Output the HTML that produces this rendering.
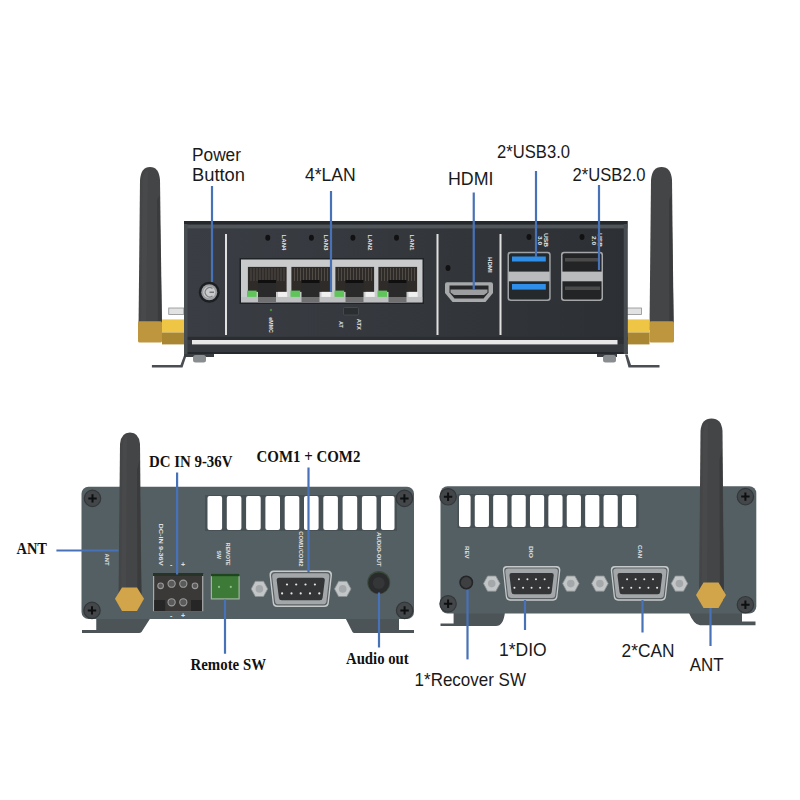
<!DOCTYPE html>
<html><head><meta charset="utf-8">
<style>
html,body{margin:0;padding:0;background:#fff;width:800px;height:800px;overflow:hidden}
svg{display:block}
.s{font-family:"Liberation Sans",sans-serif;fill:#1a1a1a}
.b{font-family:"Liberation Serif",serif;font-weight:bold;fill:#111}
</style></head><body>
<svg width="800" height="800" viewBox="0 0 800 800">
<rect width="800" height="800" fill="#fff"/>

<!-- ============ TOP UNIT ============ -->
<!-- left antenna -->
<path d="M138.5 330 L140 180 Q141 167 150 167 Q159 167 160 180 L162 330 Z" fill="#444546"/>
<path d="M141 330 L142.5 182 Q143 172 148 170 L146 330 Z" fill="#48494a"/>
<path d="M158 330 L157 200 L159.5 195 L162 330 Z" fill="#3a3b3c"/>
<!-- left silver stub -->
<rect x="168.75" y="308" width="15" height="6.4" fill="#e2e2e2" stroke="#8d8f91" stroke-width="0.8"/>
<!-- left gold -->
<rect x="138" y="321.25" width="24" height="21.25" rx="1.5" fill="#bd963e"/>
<rect x="162" y="319.4" width="22" height="13.1" fill="#eec545"/>
<rect x="162" y="332.5" width="22" height="11.9" fill="#a98632"/>
<!-- left foot -->
<path d="M151.9 365 L180.5 365 L184 355.6 L186.5 355.6 L182.5 367.5 L151.9 367.5 Z" fill="#4a4d52"/>
<rect x="184" y="354" width="30" height="3" fill="#3a3d41"/><rect x="193" y="355" width="13" height="7.5" rx="2.5" fill="#8a8d90"/>

<!-- right antenna -->
<path d="M649.5 330 L651 180 Q652 167 661.5 167 Q671 167 672 180 L673.7 330 Z" fill="#444546"/>
<path d="M669.5 330 L669 200 L671.5 195 L673.7 330 Z" fill="#3a3b3c"/>
<rect x="626.5" y="308" width="15" height="6.4" fill="#e2e2e2" stroke="#8d8f91" stroke-width="0.8"/>
<rect x="649.5" y="321.25" width="24.5" height="21.25" rx="1.5" fill="#bd963e"/>
<rect x="626.5" y="319.4" width="23" height="13.1" fill="#eec545"/>
<rect x="626.5" y="332.5" width="23" height="11.9" fill="#a98632"/>
<path d="M659.5 365 L631 365 L627.5 354.5 L625 354.5 L628.5 367.5 L659.5 367.5 Z" fill="#4a4d52"/>
<rect x="597" y="354" width="20" height="3" fill="#3a3d41"/><rect x="603" y="355" width="13" height="7.5" rx="2.5" fill="#8a8d90"/>

<!-- main box -->
<defs><linearGradient id="tg" x1="0" y1="0" x2="1" y2="0"><stop offset="0" stop-color="#3a3e44"/><stop offset="0.5" stop-color="#34383d"/><stop offset="1" stop-color="#2c3034"/></linearGradient></defs>
<rect x="184" y="221" width="443.5" height="133" fill="url(#tg)"/>
<rect x="184" y="336.8" width="443.5" height="3.2" fill="#2a2d31"/>
<rect x="184" y="344" width="443.5" height="10" fill="#363a3f"/>
<rect x="184" y="352" width="443.5" height="2" fill="#25282c"/>
<rect x="184" y="224.4" width="443.5" height="4" fill="#50555a"/>
<rect x="184" y="221" width="443.5" height="3.4" fill="#25292d"/>
<rect x="184" y="224" width="3.5" height="130" fill="#484d52"/>
<rect x="623.75" y="224" width="3.75" height="130" fill="#474c51"/>
<!-- bottom white strip -->
<rect x="192" y="340" width="425.5" height="4.4" fill="#e8e8e8"/>
<!-- feet screws under box -->
<!-- vertical white lines -->
<rect x="225" y="234" width="2" height="101" fill="#e0e0e0"/>
<rect x="436.5" y="234" width="2" height="101" fill="#e0e0e0"/>
<rect x="499.5" y="234" width="2" height="101" fill="#e0e0e0"/>

<!-- power button -->
<circle cx="209.25" cy="292.25" r="10.5" fill="#1c1e21"/>
<circle cx="209.25" cy="292.25" r="8" fill="#9c9fa1"/>
<circle cx="209.25" cy="292.25" r="6" fill="#c9cbcc"/>
<path d="M212.5 288.5 A4.6 4.6 0 1 0 212.5 296" fill="none" stroke="#7d8082" stroke-width="1.2"/>
<path d="M209.5 292.25 H214" stroke="#6d7072" stroke-width="1.4"/>

<!-- LED holes + labels LAN -->
<g fill="#111">
<ellipse cx="267.8" cy="237.8" rx="2.5" ry="3"/>
<ellipse cx="311.4" cy="237.8" rx="2.5" ry="3"/>
<ellipse cx="352.9" cy="237.8" rx="2.5" ry="3"/>
<ellipse cx="396.5" cy="237.8" rx="2.5" ry="3"/>
<ellipse cx="448" cy="268" rx="2.5" ry="3"/>
<ellipse cx="529" cy="237" rx="2.5" ry="3"/>
<ellipse cx="582" cy="237" rx="2.5" ry="3"/>
</g>
<g fill="#e6e6e6" font-family="Liberation Sans" font-weight="bold" font-size="5.5">
<text transform="translate(281.7,234.6) rotate(90)" textLength="15.9" lengthAdjust="spacingAndGlyphs">LAN4</text>
<text transform="translate(324.3,234.6) rotate(90)" textLength="15.9" lengthAdjust="spacingAndGlyphs">LAN3</text>
<text transform="translate(367.9,234.6) rotate(90)" textLength="15.9" lengthAdjust="spacingAndGlyphs">LAN2</text>
<text transform="translate(410.4,234.6) rotate(90)" textLength="15.9" lengthAdjust="spacingAndGlyphs">LAN1</text>
<text transform="translate(487.5,257) rotate(90)" textLength="15.7" lengthAdjust="spacingAndGlyphs">HDMI</text>
<text transform="translate(544.2,233) rotate(90)" textLength="14.0" lengthAdjust="spacingAndGlyphs">USB</text>
<text transform="translate(537.7,236) rotate(90)" textLength="9.0" lengthAdjust="spacingAndGlyphs">3.0</text>
<text transform="translate(598.2,233) rotate(90)" textLength="14.0" lengthAdjust="spacingAndGlyphs">USB</text>
<text transform="translate(591.7,236) rotate(90)" textLength="9.0" lengthAdjust="spacingAndGlyphs">2.0</text>
<text transform="translate(268.5,317.2) rotate(90)" textLength="15.8" lengthAdjust="spacingAndGlyphs" font-size="6">eMMC</text>
<text transform="translate(339,321) rotate(90)" textLength="6.7" lengthAdjust="spacingAndGlyphs" font-size="6">AT</text>
<text transform="translate(357,318.7) rotate(90)" textLength="11.3" lengthAdjust="spacingAndGlyphs" font-size="6">ATX</text>
</g>
<rect x="343.5" y="307.5" width="15" height="7.5" rx="1" fill="#2a2e31" stroke="#4a4f52" stroke-width="0.8"/>
<circle cx="271" cy="310" r="1.2" fill="#4a8a3a"/>

<!-- LAN ports -->
<rect x="239.5" y="258" width="184.5" height="46" fill="#202326"/>
<rect x="241" y="259.5" width="181.5" height="43" fill="#c9cacb"/>
<g id="lan">
<rect x="247.9" y="266.9" width="38.7" height="25" fill="#2e2b29"/>
<g stroke="#5a544e" stroke-width="0.8">
<path d="M251 268V281M254 268V281M257 268V281M260 268V281M263 268V281M266 268V281M269 268V281M272 268V281M275 268V281M278 268V281M281 268V281M284 268V281"/>
</g>
<rect x="258" y="280" width="18" height="3" fill="#0f0f10"/>
<rect x="247" y="290.6" width="9.6" height="6.3" fill="#5fc45a"/>
<rect x="278" y="291.9" width="9.2" height="5" fill="#f0f0f0"/>
<rect x="258" y="283" width="18" height="19" fill="#2a2a2b"/>
</g>
<use href="#lan" x="43.5"/>
<use href="#lan" x="87.5"/>
<use href="#lan" x="130.5"/>
<rect x="241" y="297" width="181.5" height="5" fill="#b5b6b7" opacity="0.5"/>

<!-- HDMI -->
<path d="M447 282.2 L491 282.2 Q493 282.2 493 284.5 L493 293 L485.5 302 L452.5 302 L445 293 L445 284.5 Q445 282.2 447 282.2 Z" fill="#a7a9aa"/>
<path d="M449.5 285.5 L488.5 285.5 L488.5 292.5 L483.5 298.5 L454.5 298.5 L449.5 292.5 Z" fill="#26282a"/>
<path d="M450.5 289.5 L487.5 289.5 L487.5 292.5 L484 295 L454 295 L450.5 292.5 Z" fill="#9c9ea0"/>
<!-- USB 3.0 -->
<rect x="507.5" y="251.8" width="43.2" height="49.1" rx="3" fill="#9fa2a4"/>
<rect x="509" y="253.3" width="40.2" height="46.1" rx="2" fill="#26292c"/>
<rect x="508.5" y="271.6" width="41.2" height="9.7" fill="#b9bbbc"/>
<rect x="512" y="256.5" width="33.8" height="5" fill="#2f8fe8"/>
<rect x="512" y="284" width="33.8" height="5.6" fill="#2f8fe8"/>
<!-- USB 2.0 -->
<rect x="561" y="251.8" width="42" height="49.1" rx="3" fill="#a4a6a8"/>
<rect x="562.5" y="253.3" width="39" height="46.1" rx="2" fill="#222426"/>
<rect x="562" y="271.6" width="40" height="9.7" fill="#b9bbbc"/>
<rect x="565" y="258" width="35" height="3.5" fill="#4a4a4b"/>
<rect x="565" y="286.5" width="35" height="3.5" fill="#4a4a4b"/>

<!-- ============ BOTTOM LEFT UNIT ============ -->
<!-- feet -->
<path d="M82 630 L96.25 630 L96.25 618 L150.5 618 L141.5 632 Q140.5 633 139 633 L82 633 Z" fill="#4c5458"/>
<path d="M345.4 618 L399 618 L399 630 L414 630 L414 633 L354.5 633 Q353 633 352.5 632 Z" fill="#4c5458"/>
<!-- box -->
<rect x="81.5" y="486.75" width="332.5" height="132.25" rx="7" fill="#545f63"/>
<!-- slots -->
<rect x="205" y="495" width="192" height="36" fill="#465055"/>
<g fill="#fff">
<rect x="207.5" y="496" width="14.6" height="34" rx="2"/>
<rect x="226.8" y="496" width="14.6" height="34" rx="2"/>
<rect x="246.1" y="496" width="14.6" height="34" rx="2"/>
<rect x="265.4" y="496" width="14.6" height="34" rx="2"/>
<rect x="284.7" y="496" width="14.6" height="34" rx="2"/>
<rect x="304" y="496" width="14.6" height="34" rx="2"/>
<rect x="323.3" y="496" width="14.6" height="34" rx="2"/>
<rect x="342.6" y="496" width="14.6" height="34" rx="2"/>
<rect x="361.9" y="496" width="14.6" height="34" rx="2"/>
<rect x="381" y="496" width="13.5" height="34" rx="2"/>
</g>
<!-- screws -->
<g id="scr">
<circle cx="92.5" cy="498.4" r="8.2" fill="#43474a" stroke="#33373a" stroke-width="1.2"/>
<path d="M88.3 498.4 H96.7 M92.5 494.2 V502.6" stroke="#0e0f10" stroke-width="2"/>
</g>
<use href="#scr" x="311.9" y="0"/>
<use href="#scr" x="-0.5" y="112"/>
<use href="#scr" x="312.1" y="112"/>

<!-- small labels -->
<g fill="#e2e2e2" font-family="Liberation Sans" font-weight="bold" font-size="6">
<text transform="translate(105.0,553.5) rotate(90)" textLength="12.1" lengthAdjust="spacingAndGlyphs">ANT</text>
<text transform="translate(159.4,523.4) rotate(90)" textLength="42.2" lengthAdjust="spacingAndGlyphs">DC-IN 9-36V</text>
<text transform="translate(226.4,542.8) rotate(90)" textLength="22.8" lengthAdjust="spacingAndGlyphs">REMOTE</text>
<text transform="translate(217.0,550.6) rotate(90)" textLength="8.4" lengthAdjust="spacingAndGlyphs">SW</text>
<text transform="translate(298.8,531.2) rotate(90)" textLength="35.3" lengthAdjust="spacingAndGlyphs">COM1/COM2</text>
<text transform="translate(376.5,532) rotate(90)" textLength="34.5" lengthAdjust="spacingAndGlyphs">AUDIO-OUT</text>
<text x="170" y="567" font-size="7">-</text><text x="181" y="567" font-size="7">+</text>
<text x="170" y="618" font-size="7">-</text><text x="181" y="618" font-size="7">+</text>
</g>

<!-- DC terminal -->
<rect x="153" y="574" width="50.3" height="37.2" fill="#a9abab"/>
<rect x="154.2" y="574" width="47.9" height="37.2" fill="#3a3938"/>
<rect x="153" y="573" width="50.3" height="3" fill="#263326"/>
<rect x="154.2" y="600" width="11" height="11" fill="#262626"/>
<rect x="191" y="600" width="11" height="11" fill="#262626"/>
<g fill="#5a5a5a" stroke="#9a9a9a" stroke-width="1.1">
<circle cx="171.6" cy="583.7" r="3.6"/><circle cx="183.3" cy="583.7" r="3.6"/>
<circle cx="171.6" cy="602.3" r="3.6"/><circle cx="183.3" cy="602.3" r="3.6"/>
<circle cx="160.6" cy="585.8" r="2.8"/><circle cx="195" cy="585.8" r="2.8"/>
</g>
<!-- green connector -->
<rect x="210.8" y="573.4" width="28.9" height="26.1" fill="#a3b3a3"/>
<rect x="212" y="574.6" width="26.5" height="23.7" fill="#3e7a37"/>
<rect x="210.8" y="573.4" width="28.9" height="2.8" fill="#1f471f"/>
<circle cx="219" cy="586.9" r="1.1" fill="#8fbf8f"/><circle cx="230.8" cy="586.9" r="1.1" fill="#8fbf8f"/>

<!-- antenna left-bottom -->
<path d="M118.5 600 L120 444 Q121 432.6 130 432.6 Q139 432.6 140 444 L141.5 600 Z" fill="#444546"/>
<path d="M121 600 L122.5 446 Q123 438 127 436 L126 600 Z" fill="#48494a"/>
<path d="M137.5 600 L137 470 L139.5 460 L141.5 600 Z" fill="#3a3b3c"/>
<path d="M115 598.75 L122 587.5 L137 587.5 L144 598.75 L137 611 L122 611 Z" fill="#d2a54a"/>

<!-- DB9 COM -->
<g id="db9">
<path d="M273.8 570.5 L327.7 570.5 Q332.2 570.5 332.0 575.0 L328.9 602.5 Q328.7 607 324.2 607 L277.3 607 Q272.8 607 272.6 602.5 L269.5 575.0 Q269.3 570.5 273.8 570.5 Z" fill="#c6cacb"/>
<path d="M274.6 572 L326.9 572 Q330.7 572 330.5 575.8 L327.59999999999997 601.7 Q327.4 605.5 323.59999999999997 605.5 L277.90000000000003 605.5 Q274.1 605.5 273.90000000000003 601.7 L271.0 575.8 Q270.8 572 274.6 572 Z" fill="#5b6063"/>
<path d="M275.4 573.2 L326.1 573.2 Q329.5 573.2 329.3 576.6 L326.5 600.9 Q326.3 604.3 322.90000000000003 604.3 L278.59999999999997 604.3 Q275.2 604.3 275.0 600.9 L272.2 576.6 Q272 573.2 275.4 573.2 Z" fill="#a3a7a9"/>
<path d="M279.0 577.8 L322.5 577.8 Q325 577.8 324.8 580.3 L322.59999999999997 597.8 Q322.4 600.3 319.9 600.3 L281.6 600.3 Q279.1 600.3 278.90000000000003 597.8 L276.7 580.3 Q276.5 577.8 279.0 577.8 Z" fill="#343537"/>
<g fill="#e6e6e6">
<circle cx="287" cy="584.5" r="1.1"/><circle cx="296.2" cy="584.5" r="1.1"/><circle cx="305.5" cy="584.5" r="1.1"/><circle cx="314.9" cy="584.5" r="1.1"/>
<circle cx="282.1" cy="593.4" r="1.1"/><circle cx="291.5" cy="593.4" r="1.1"/><circle cx="300.7" cy="593.4" r="1.1"/><circle cx="310" cy="593.4" r="1.1"/><circle cx="319.3" cy="593.4" r="1.1"/>
</g>
</g>
<g id="nut">
<path d="M251.2 588.9 L255.3 581.3 L263.5 581.3 L267.7 588.9 L263.5 596.5 L255.3 596.5 Z" fill="#c3c6c7" stroke="#8c9093" stroke-width="0.8"/>
<circle cx="259.4" cy="588.9" r="3.8" fill="#a5a8aa"/>
</g>
<use href="#nut" x="83.3"/>

<!-- audio jack -->
<circle cx="378.75" cy="582.5" r="11.5" fill="#3a4a3a"/>
<circle cx="378.75" cy="583" r="10.5" fill="#2a2b2c"/>
<circle cx="378.75" cy="583" r="6" fill="#353637"/>

<!-- ============ BOTTOM RIGHT UNIT ============ -->
<path d="M453.6 612 L505 612 Q503.5 626 496 626 L440.5 626 L440.5 623.5 L453.6 623.5 Z" fill="#4c5458"/>
<path d="M689 613 L742 613 L742 621.5 L755.5 621.5 L755.5 625.3 L700 625.3 Q694 625 689 613 Z" fill="#4c5458"/>
<rect x="440.5" y="486.2" width="315.8" height="127.3" rx="7" fill="#545f63"/>
<rect x="457.5" y="494" width="181" height="34" fill="#465055"/>
<g fill="#fff">
<rect x="459" y="495" width="11.6" height="32" rx="2"/>
<rect x="474.75" y="495" width="14.2" height="32" rx="2"/>
<rect x="493.15" y="495" width="14.2" height="32" rx="2"/>
<rect x="511.55" y="495" width="14.2" height="32" rx="2"/>
<rect x="529.95" y="495" width="14.2" height="32" rx="2"/>
<rect x="548.35" y="495" width="14.2" height="32" rx="2"/>
<rect x="566.75" y="495" width="14.2" height="32" rx="2"/>
<rect x="585.15" y="495" width="14.2" height="32" rx="2"/>
<rect x="603.55" y="495" width="14.2" height="32" rx="2"/>
<rect x="621.95" y="495" width="14.2" height="32" rx="2"/>
</g>
<use href="#scr" x="355.6" y="-1.6"/>
<use href="#scr" x="652.9" y="-1.8"/>
<use href="#scr" x="355.6" y="105.4"/>
<use href="#scr" x="652.9" y="106.3"/>
<g fill="#e2e2e2" font-family="Liberation Sans" font-weight="bold" font-size="6">
<text transform="translate(465.3,546) rotate(90)" textLength="12.5" lengthAdjust="spacingAndGlyphs">REV</text>
<text transform="translate(529.1,546) rotate(90)" textLength="12.0" lengthAdjust="spacingAndGlyphs">DIO</text>
<text transform="translate(637.8,545) rotate(90)" textLength="13.0" lengthAdjust="spacingAndGlyphs">CAN</text>
</g>
<circle cx="466.25" cy="582.5" r="6.2" fill="#3d3f40" stroke="#232527" stroke-width="1.6"/>
<use href="#db9" transform="translate(531.6,583.2) scale(0.92,0.95) translate(-300.75,-588.65)"/>
<use href="#nut" x="232.3" y="-5.3"/>
<use href="#nut" x="311.4" y="-5.3"/>
<use href="#db9" transform="translate(639.85,583.2) scale(0.93,0.95) translate(-300.75,-588.65)"/>
<use href="#nut" x="340.5" y="-5.3"/>
<use href="#nut" x="420" y="-5.3"/>
<!-- right antenna bottom -->
<path d="M699 600 L700.5 431 Q701.5 418.6 711.5 418.6 Q721.5 418.6 722.5 431 L724 600 Z" fill="#444546"/>
<path d="M701.5 600 L703 433 Q703.5 424 708 422 L707 600 Z" fill="#48494a"/>
<path d="M720 600 L719.5 460 L722 450 L724 600 Z" fill="#3a3b3c"/>
<path d="M696 595 L703.5 582.4 L718.5 582.4 L726 595 L718.5 608 L703.5 608 Z" fill="#d2a54a"/>

<!-- ============ CALLOUT LINES ============ -->
<g stroke="#4872b8" stroke-width="2.2">
<line x1="212" y1="186" x2="212" y2="282"/>
<line x1="331" y1="191" x2="331" y2="292"/>
<line x1="473.75" y1="192.5" x2="473.75" y2="290"/>
<line x1="536" y1="171" x2="536" y2="257"/>
<line x1="599" y1="185" x2="599" y2="270"/>
<line x1="56.4" y1="550.5" x2="118.5" y2="550.5"/>
<line x1="177.1" y1="472.5" x2="177.1" y2="574.5"/>
<line x1="308.5" y1="467.5" x2="308.5" y2="572"/>
<line x1="225" y1="599.5" x2="225" y2="653.75"/>
<line x1="379" y1="592.5" x2="379" y2="647.5"/>
<line x1="467.5" y1="590" x2="467.5" y2="659.4"/>
<line x1="525" y1="600" x2="525" y2="630"/>
<line x1="642.5" y1="600" x2="642.5" y2="632.5"/>
<line x1="710.5" y1="608" x2="710.5" y2="646"/>
</g>

<!-- ============ LABELS ============ -->
<g class="s" font-size="18">
<text x="192" y="161" textLength="49" lengthAdjust="spacingAndGlyphs">Power</text>
<text x="192" y="181.25" textLength="53" lengthAdjust="spacingAndGlyphs">Button</text>
<text x="305" y="181" textLength="50.75" lengthAdjust="spacingAndGlyphs">4*LAN</text>
<text x="448" y="184.7" textLength="45.5" lengthAdjust="spacingAndGlyphs">HDMI</text>
<text x="497" y="158" textLength="73" lengthAdjust="spacingAndGlyphs">2*USB3.0</text>
<text x="572.5" y="180.5" textLength="73" lengthAdjust="spacingAndGlyphs">2*USB2.0</text>
</g>
<g class="s" font-size="18.5">
<text x="499" y="656" textLength="47.7" lengthAdjust="spacingAndGlyphs">1*DIO</text>
<text x="414.6" y="686.4" textLength="111.4" lengthAdjust="spacingAndGlyphs">1*Recover SW</text>
<text x="621.6" y="656.8" textLength="52.9" lengthAdjust="spacingAndGlyphs">2*CAN</text>
<text x="689.8" y="671.2" textLength="33.8" lengthAdjust="spacingAndGlyphs">ANT</text>
</g>
<g class="b" font-size="15.8">
<text x="149" y="466.5" textLength="83.5" lengthAdjust="spacingAndGlyphs">DC IN 9-36V</text>
<text x="256.6" y="461.5" textLength="103.8" lengthAdjust="spacingAndGlyphs">COM1 + COM2</text>
<text x="16.5" y="553.5" textLength="30.5" lengthAdjust="spacingAndGlyphs">ANT</text>
<text x="190.5" y="670" textLength="75.5" lengthAdjust="spacingAndGlyphs">Remote SW</text>
<text x="346" y="664" textLength="62.75" lengthAdjust="spacingAndGlyphs">Audio out</text>
</g>
</svg>
</body></html>
